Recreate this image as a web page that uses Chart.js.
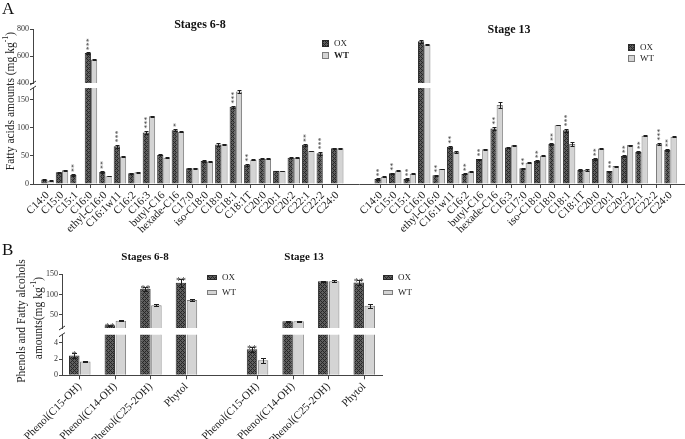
<!DOCTYPE html>
<html><head><meta charset="utf-8">
<script src="https://cdn.jsdelivr.net/npm/chart.js@4.4.0/dist/chart.umd.min.js"></script>
<style>
html,body{margin:0;padding:0;background:#fff;}
#wrap{position:relative;width:685px;height:439px;overflow:hidden;background:#fff;}
canvas{position:absolute;left:0;top:0;}
</style></head><body>
<div id="wrap">
<canvas id="cAup" width="685" height="439"></canvas>
<canvas id="cAlo" width="685" height="439"></canvas>
<canvas id="cBup" width="685" height="439"></canvas>
<canvas id="cBlo" width="685" height="439"></canvas>
</div>
<script>
// ---------- Panel A data (fatty acids, mg kg-1) ----------
const faCats68 = ['C14:0','C15:0','C15:1','C16:0','ethyl-C16:0','C16:1w11','C16:2','C16:3','butyl-C16','hexade-C16','C17:0','iso-C18:0','C18:0','C18:1','C18:1T','C20:0','C20:1','C20:2','C22:1','C22:2','C24:0'];
const ox68    = [8,21,16,622,21.5,67.5,19,92,52,96,28,41,70.5,138,34.5,45,23.5,47,70,55,64];
const wt68    = [6,24.5,null,575,14,49,21,121,47,93,28,40,71,165,43,45,23,47,59,null,64];
const oxErr68 = [0.8,1,2,5,1.5,3,0.8,3,1,2,0.5,1,2,1.5,1.5,1,0.5,0.8,1.5,3,0.8];
const wtErr68 = [0.5,0.5,null,3,0.5,0.8,0.8,1,0.8,0.8,0.5,0.5,0.8,3,0.8,0.8,0.5,0.8,0.8,null,0.8];
const sig68   = ['','','**','***','**','***','','***','','*','','','','***','**','','','','**','***',''];

const faCats13 = ['C14:0','C15:0','C15:1','C16:0','ethyl-C16:0','C16:1w11','C16:2','butyl-C16','hexade-C16','C16:3','C17:0','iso-C18:0','C18:0','C18:1','C18:1T','C20:0','C20:1','C20:2','C22:1','C22:2','C24:0'];
const ox13    = [9,19,9,710,15.5,66.5,18,44.5,99,65,28,41,71.5,96,25,44.5,23,50,57,null,60.5];
const wt13    = [13,24,18.5,685,27,57,22.5,62,141,69,38,50.5,105,71.5,25,63.5,32,69.5,86,71.5,84.5];
const oxErr13 = [1,1,1,10,1,2,1,1,3,1,1,1.5,1.5,3,1,1.5,1,1.5,1.5,null,2];
const wtErr13 = [0.5,0.5,0.5,3,0.5,1.5,0.5,1,6,0.5,0.8,0.8,0.5,4,1.5,1,0.8,0.8,0.8,2,1];
const sig13   = ['**','**','**','','**','**','**','**','**','','**','**','**','***','','**','**','**','**','***','**'];

// ---------- Panel B data (phenols and fatty alcohols, mg kg-1) ----------
const phCats   = ['Phenol(C15-OH)','Phenol(C14-OH)','Phenol(C25-2OH)','Phytol'];
const oxB68    = [2.45,24,114,129];
const wtB68    = [1.7,35,73.5,86.5];
const oxErrB68 = [0.35,1,5,10];
const wtErrB68 = [0.05,1.5,2.5,2];
const sigB68   = ['*','**','**','**'];
const oxB13    = [3.2,34,133,130];
const wtB13    = [1.84,34,133,72];
const oxErrB13 = [0.3,1,1.5,7];
const wtErrB13 = [0.35,1,2,5];
const sigB13   = ['**','','','**'];

// ---------- combined category tables ----------
const joinA = (a, b) => [null, ...a, null, null, ...b, null];
const labelsA = ['', ...faCats68, '', '', ...faCats13, ''];
const joinB = (a, b) => [...a, null, ...b];
const labelsB = [...phCats, '', ...phCats];

const SERIF = '"Liberation Serif","Times New Roman",serif';

function hatch(){
  const c = document.createElement('canvas'); c.width = 4; c.height = 4;
  const g = c.getContext('2d');
  g.fillStyle = '#5e5e5e'; g.fillRect(0,0,4,4);
  g.fillStyle = '#262626';
  for (let x=0;x<4;x++) for (let y=0;y<4;y++) if ((x+y)%4===0 || ((x-y)+8)%4===0) g.fillRect(x,y,1,1);
  return g.createPattern(c,'repeat');
}
const OXFILL = hatch();
const WTFILL = '#d4d4d4';

function datasets(ox, wt, oxE, wtE){
  return [
    {label:'OX', data:ox, errors:oxE, backgroundColor:OXFILL, borderColor:'#2a2a2a', borderWidth:1, borderSkipped:'bottom'},
    {label:'WT', data:wt, errors:wtE, backgroundColor:WTFILL, borderColor:'#7c7c7c', borderWidth:1, borderSkipped:'bottom'}
  ];
}

const barExtras = {
  id:'barExtras',
  afterDatasetsDraw(chart, args, o){
    const {ctx, chartArea:a} = chart;
    const y = chart.scales.y;
    ctx.save();
    ctx.beginPath(); ctx.rect(a.left, a.top-1, a.right-a.left, a.bottom-a.top+1); ctx.clip();
    ctx.strokeStyle = '#1e1e1e'; ctx.lineWidth = 1;
    chart.data.datasets.forEach((ds, di) => {
      const meta = chart.getDatasetMeta(di);
      meta.data.forEach((bar, i) => {
        const v = ds.data[i], e = ds.errors[i];
        if (v == null || e == null) return;
        const x0 = Math.round(bar.x) + 0.5;
        const yt = Math.round(y.getPixelForValue(v + e)) + 0.5;
        const yb = Math.round(y.getPixelForValue(v - e)) + 0.5;
        ctx.beginPath();
        ctx.moveTo(x0, yt); ctx.lineTo(x0, yb);
        ctx.moveTo(x0 - o.cap, yt); ctx.lineTo(x0 + o.cap, yt);
        ctx.moveTo(x0 - o.cap, yb); ctx.lineTo(x0 + o.cap, yb);
        ctx.stroke();
      });
    });
    ctx.restore();
    const stars = o.stars || [];
    ctx.save();
    ctx.fillStyle = '#333';
    ctx.font = o.starFont;
    stars.forEach((s, i) => {
      if (!s) return;
      const d0 = chart.data.datasets[0];
      const di = d0.data[i] != null ? 0 : 1;
      const ds = chart.data.datasets[di];
      const v = ds.data[i], e = ds.errors[i] || 0;
      if (v < y.min || v > y.max) return;
      const bar = chart.getDatasetMeta(di).data[i];
      const py = y.getPixelForValue(v + e) - o.starGap;
      if (o.vertical) {
        ctx.save();
        ctx.translate(bar.x + 2, py);
        ctx.rotate(-Math.PI/2);
        ctx.textAlign = 'left'; ctx.textBaseline = 'middle';
        ctx.fillText(s, 0, 0);
        ctx.restore();
      } else {
        ctx.textAlign = 'center'; ctx.textBaseline = 'alphabetic';
        ctx.fillText(s, bar.x, py + o.starDrop);
      }
    });
    ctx.restore();
    if (o.brk) {
      ctx.save();
      ctx.strokeStyle = '#333'; ctx.lineWidth = 1;
      const yy = o.brk === 'bottom' ? a.bottom : a.top;
      ctx.beginPath();
      ctx.moveTo(a.left - 3, yy + 2); ctx.lineTo(a.left + 3, yy - 2);
      ctx.stroke();
      ctx.restore();
    }
  }
};

function supText(ctx, x, y, parts, font, supFont){
  ctx.save();
  let w = 0;
  parts.forEach(p => { ctx.font = p[1] ? supFont : font; w += ctx.measureText(p[0]).width; });
  ctx.translate(x, y); ctx.rotate(-Math.PI/2);
  ctx.textAlign = 'left'; ctx.textBaseline = 'middle'; ctx.fillStyle = '#222';
  let cx = -w/2;
  parts.forEach(p => {
    ctx.font = p[1] ? supFont : font;
    ctx.fillText(p[0], cx, p[1] ? -5 : 0);
    cx += ctx.measureText(p[0]).width;
  });
  ctx.restore();
}

function legend(ctx, x, y, sw, sh, gap, font, boldWT){
  ctx.save();
  ctx.textBaseline = 'middle'; ctx.textAlign = 'left';
  ctx.fillStyle = OXFILL; ctx.fillRect(x, y, sw, sh);
  ctx.strokeStyle = '#2a2a2a'; ctx.lineWidth = 1; ctx.strokeRect(x+0.5, y+0.5, sw-1, sh-1);
  ctx.fillStyle = WTFILL; ctx.fillRect(x, y+gap, sw, sh);
  ctx.strokeStyle = '#7c7c7c'; ctx.strokeRect(x+0.5, y+gap+0.5, sw-1, sh-1);
  ctx.fillStyle = '#222';
  ctx.font = font; ctx.fillText('OX', x + sw + 5, y + sh/2 + 0.5);
  ctx.font = boldWT ? 'bold ' + font : font; ctx.fillText('WT', x + sw + 5, y + gap + sh/2 + 0.5);
  ctx.restore();
}

const decorA = {
  id:'decorA',
  afterDraw(chart){
    const ctx = chart.ctx;
    ctx.save();
    ctx.fillStyle = '#111'; ctx.textBaseline = 'top'; ctx.textAlign = 'left';
    ctx.font = '17px ' + SERIF; ctx.fillText('A', 2, 1);
    ctx.textAlign = 'center'; ctx.textBaseline = 'middle';
    ctx.font = 'bold 12px ' + SERIF;
    ctx.fillText('Stages 6-8', 200, 25);
    ctx.fillText('Stage 13', 509, 30);
    ctx.restore();
    supText(ctx, 11, 101, [['Fatty acids amounts (mg kg', false], ['-1', true], [')', false]], '11.5px ' + SERIF, '8px ' + SERIF);
    legend(ctx, 322, 40, 7, 7, 12, '9px ' + SERIF, true);
    legend(ctx, 628, 44, 7, 7, 11, '9px ' + SERIF, false);
  }
};

const decorB = {
  id:'decorB',
  afterDraw(chart){
    const ctx = chart.ctx;
    ctx.save();
    ctx.fillStyle = '#111'; ctx.textBaseline = 'top'; ctx.textAlign = 'left';
    ctx.font = '17px ' + SERIF; ctx.fillText('B', 2, 242);
    ctx.textAlign = 'center'; ctx.textBaseline = 'middle';
    ctx.font = 'bold 11px ' + SERIF;
    ctx.fillText('Stages 6-8', 145, 257);
    ctx.fillText('Stage 13', 304, 257);
    ctx.restore();
    supText(ctx, 22, 321, [['Phenols and Fatty alcohols', false]], '11.5px ' + SERIF, '8px ' + SERIF);
    supText(ctx, 39, 318, [['amounts(mg kg', false], ['-1', true], [')', false]], '11.5px ' + SERIF, '8px ' + SERIF);
    legend(ctx, 207, 275, 10, 5, 15, '9px ' + SERIF, false);
    legend(ctx, 383, 275, 10, 5, 15, '9px ' + SERIF, false);
  }
};

function makeChart(id, o){
  const YW = 30, XH = o.showX ? o.xh : 0;
  return new Chart(document.getElementById(id), {
    type:'bar',
    data:{labels:o.labels, datasets:o.datasets},
    plugins: [barExtras].concat(o.decor ? [o.decor] : []),
    options:{
      responsive:false, animation:false, devicePixelRatio:1,
      layout:{padding:{left:o.l - YW, right:685 - o.r, top:o.t, bottom:439 - o.b - XH}},
      datasets:{bar:{barPercentage:o.barPct, categoryPercentage:o.catPct}},
      plugins:{
        legend:{display:false}, tooltip:{enabled:false}, title:{display:false},
        barExtras:{cap:o.cap, stars:o.stars, starFont:o.starFont, vertical:o.vertical, starGap:o.starGap, starDrop:o.starDrop||0, brk:o.brk}
      },
      scales:{
        x:{
          type:'category', offset:o.xOffset, display:o.showX,
          grid:{display:true, drawOnChartArea:false, drawTicks:true, tickLength:4, offset:false,
                color: c => (c.tick && c.tick.label) ? '#444' : 'rgba(0,0,0,0)'},
          border:{display:true, color:'#444', width:1},
          ticks:{autoSkip:false, minRotation:45, maxRotation:45, padding:1, color:'#1a1a1a',
                 font:{family:SERIF, size:o.xFont}},
          afterFit: s => { s.height = XH; s.paddingLeft = 0; s.paddingRight = 0; }
        },
        y:{
          type:'linear', min:o.yMin, max:o.yMax,
          grid:{display:true, drawOnChartArea:false, drawTicks:true, tickLength:3, color:'#444'},
          border:{display:true, color:'#444', width:1},
          ticks:{stepSize:o.step, includeBounds:false, padding:1, color:'#333', font:{family:SERIF, size:8}},
          afterFit: s => { s.width = YW; s.paddingTop = 0; s.paddingBottom = 0; }
        }
      }
    }
  });
}

const dsA = () => datasets(joinA(ox68, ox13), joinA(wt68, wt13), joinA(oxErr68, oxErr13), joinA(wtErr68, wtErr13));
const starsA = ['', ...sig68, '', '', ...sig13, ''];
const dsB = () => datasets(joinB(oxB68, oxB13), joinB(wtB68, wtB13), joinB(oxErrB68, oxErrB13), joinB(wtErrB68, wtErrB13));
const starsB = [...sigB68, '', ...sigB13];

makeChart('cAup', {labels:labelsA, datasets:dsA(), l:33, r:685, t:29, b:83, yMin:400, yMax:800, step:200,
  showX:false, xOffset:false, barPct:1, catPct:0.86, cap:2, stars:starsA, starFont:'8px ' + SERIF, vertical:true, starGap:2, brk:'bottom'});
makeChart('cAlo', {labels:labelsA, datasets:dsA(), l:33, r:685, t:88, b:184, yMin:0, yMax:171.4, step:50,
  showX:true, xh:60, xFont:11, xOffset:false, barPct:1, catPct:0.86, cap:2, stars:starsA, starFont:'8px ' + SERIF, vertical:true, starGap:2, brk:'top', decor:decorA});
makeChart('cBup', {labels:labelsB, datasets:dsB(), l:62, r:382, t:274.3, b:328, yMin:17, yMax:150, step:50,
  showX:false, xOffset:true, barPct:0.95, catPct:0.62, cap:2.5, stars:starsB, starFont:'10px ' + SERIF, vertical:false, starGap:1, starDrop:6, brk:'bottom'});
makeChart('cBlo', {labels:labelsB, datasets:dsB(), l:62, r:382, t:334.7, b:375.3, yMin:0, yMax:5, step:2,
  showX:true, xh:64, xFont:11, xOffset:true, barPct:0.95, catPct:0.62, cap:2.5, stars:starsB, starFont:'10px ' + SERIF, vertical:false, starGap:1, starDrop:6, brk:'top', decor:decorB});
</script>
</body></html>
